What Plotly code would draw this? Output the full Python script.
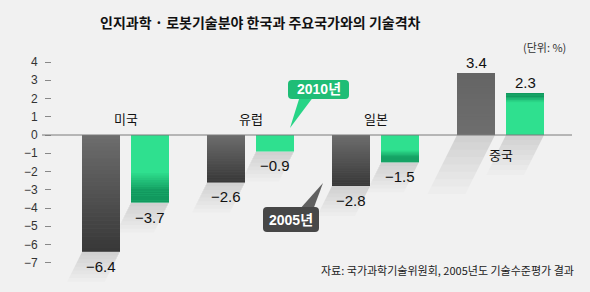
import plotly.graph_objects as go

# ---- data ----
categories = ["미국", "유럽", "일본", "중국"]
values_2005 = [-6.4, -2.6, -2.8, 3.4]
values_2010 = [-3.7, -0.9, -1.5, 2.3]
series_names = ["2005년", "2010년"]
y_ticks = [4, 3, 2, 1, 0, -1, -2, -3, -4, -5, -6, -7]
title_text = "인지과학 · 로봇기술분야 한국과 주요국가와의 기술격차"
unit_text = "(단위: %)"
source_text = "자료: 국가과학기술위원회, 2005년도 기술수준평가 결과"

W, H = 590, 292
KFONT = "Noto Sans CJK KR"
NFONT = "Liberation Sans, Noto Sans CJK KR"

GRAY = "#6e6e6e"
GREEN = "#2fe08f"

BAR_W = 0.304
OFF_05 = -0.348
OFF_10 = 0.044

# axis geometry: zero at y=135px, 18.25 px per unit; plot x from 52 to 572 px
TOP, BOT, LEFT, RIGHT = 40, 285, 52, 572
PPU = 18.25
ymax = (135 - TOP) / PPU
ymin = (135 - BOT) / PPU
XC0, XPU = 125.5, 125.0
xmin = (LEFT - XC0) / XPU
xmax = (RIGHT - XC0) / XPU

xs = list(range(len(categories)))

fig = go.Figure()
fig.add_trace(go.Bar(x=xs, y=values_2005, name=series_names[0], width=BAR_W, offset=OFF_05,
                     marker=dict(color=GRAY, line=dict(width=0)), showlegend=False, hoverinfo="skip"))
fig.add_trace(go.Bar(x=xs, y=values_2010, name=series_names[1], width=BAR_W, offset=OFF_10,
                     marker=dict(color=GREEN, line=dict(width=0)), showlegend=False, hoverinfo="skip"))


def fmt(v):
    s = f"{abs(v):.1f}"
    return ("\u2212" + s) if v < 0 else s


annotations = []
for vals, off in ((values_2005, OFF_05), (values_2010, OFF_10)):
    for i, v in enumerate(vals):
        annotations.append(dict(
            x=i + off + BAR_W / 2, y=v, xref="x", yref="y", text=fmt(v), showarrow=False,
            xanchor="center", yanchor="top" if v < 0 else "bottom", yshift=-4 if v < 0 else 0,
            font=dict(family=NFONT, size=15, color="#111")))

# category labels
for i, c in enumerate(categories):
    neg = values_2005[i] < 0
    annotations.append(dict(
        x=i, y=0, xref="x", yref="y", text=c, showarrow=False, xanchor="center",
        yanchor="bottom" if neg else "top", yshift=5 if neg else -8,
        font=dict(family=KFONT, size=13, color="#111")))


def px(x):
    return x / W


def py(y):
    return 1 - y / H


# title, unit, source
annotations.append(dict(x=px(260), y=py(22), xref="paper", yref="paper", text=f"<b>{title_text}</b>",
                        showarrow=False, xanchor="center", yanchor="middle",
                        font=dict(family=KFONT, size=14, color="#111")))
annotations.append(dict(x=px(568), y=py(47), xref="paper", yref="paper", text=unit_text,
                        showarrow=False, xanchor="right", yanchor="middle",
                        font=dict(family=KFONT, size=11, color="#333")))
annotations.append(dict(x=px(576), y=py(270), xref="paper", yref="paper", text=source_text,
                        showarrow=False, xanchor="right", yanchor="middle",
                        font=dict(family=KFONT, size=11, color="#222")))


def rrect(x0, y0, x1, y1, r=4):
    rx, ry = r / W, r / H
    X0, X1 = px(x0), px(x1)
    Y0, Y1 = py(y0), py(y1)
    return (f"M{X0+rx},{Y0} L{X1-rx},{Y0} Q{X1},{Y0} {X1},{Y0-ry} "
            f"L{X1},{Y1+ry} Q{X1},{Y1} {X1-rx},{Y1} L{X0+rx},{Y1} "
            f"Q{X0},{Y1} {X0},{Y1+ry} L{X0},{Y0-ry} Q{X0},{Y0} {X0+rx},{Y0} Z")


def tri(p1, p2, p3):
    return f"M{px(p1[0])},{py(p1[1])} L{px(p2[0])},{py(p2[1])} L{px(p3[0])},{py(p3[1])} Z"


shapes = []

# --- soft diagonal shadows below bars (derived from bar geometry) ---
SLOPE = 0.5  # px left per px down
for vals, off in ((values_2005, OFF_05), (values_2010, OFF_10)):
    for i, v in enumerate(vals):
        x0 = i + off
        x1 = x0 + BAR_W
        base = v if v < 0 else 0.0
        length_px = 30 if v < 0 else abs(v) * PPU * 0.95
        steps = 8
        for k in range(steps):
            L = length_px * (k + 1) / steps
            dy = L / PPU
            dx = SLOPE * L / XPU
            shapes.append(dict(
                type="path", xref="x", yref="y", layer="below",
                path=(f"M{x0},{base} L{x1},{base} L{x1 - dx},{base - dy} L{x0 - dx},{base - dy} Z"),
                fillcolor="rgba(0,0,0,0.017)", line=dict(width=0)))

# --- bar shading bands (gradient toward the bar tip) ---
NB = 30
for vals, off, kind in ((values_2005, OFF_05, "gray"), (values_2010, OFF_10, "green")):
    for i, v in enumerate(vals):
        x0 = i + off
        x1 = x0 + BAR_W
        if kind == "green" and abs(v) < 1:
            continue
        for k in range(NB):
            t0 = k / NB
            t1 = (k + 1) / NB
            tm = (t0 + t1) / 2
            if kind == "gray":
                a = 0.5 * tm if v < 0 else 0.08 * tm
                col = f"rgba(0,0,0,{a:.3f})"
            else:
                start = 0.55 if v < 0 else 0.78
                a = 0.0 if tm < start else 0.62 * min(1.0, (tm - start) / (1 - start) * 1.6)
                col = f"rgba(0,110,65,{a:.3f})"
            if a <= 0:
                continue
            shapes.append(dict(type="rect", xref="x", yref="y", layer="above",
                               x0=x0, x1=x1, y0=v * t0, y1=v * t1,
                               fillcolor=col, line=dict(width=0)))

# zero line extended slightly left
shapes.append(dict(type="line", xref="paper", yref="y", x0=px(42), x1=px(572), y0=0, y1=0,
                   line=dict(color="#7a7a7a", width=1), layer="above"))

# 2010 callout
shapes.append(dict(type="path", xref="paper", yref="paper", path=tri((300, 96), (314, 96), (290, 128)),
                   fillcolor="#27d486", line=dict(width=0)))
shapes.append(dict(type="path", xref="paper", yref="paper", path=rrect(288, 80, 349, 99),
                   fillcolor="#1fbd76", line=dict(width=0)))
# 2005 callout
shapes.append(dict(type="path", xref="paper", yref="paper", path=tri((299, 210), (313, 210), (323, 183)),
                   fillcolor="#606060", line=dict(width=0)))
shapes.append(dict(type="path", xref="paper", yref="paper", path=rrect(263, 207, 319, 232),
                   fillcolor="#474747", line=dict(width=0)))

annotations.append(dict(x=px(318.5), y=py(89.5), xref="paper", yref="paper", text=f"<b>{series_names[1]}</b>",
                        showarrow=False, xanchor="center", yanchor="middle",
                        font=dict(family=NFONT, size=14, color="white")))
annotations.append(dict(x=px(291), y=py(219.5), xref="paper", yref="paper", text=f"<b>{series_names[0]}</b>",
                        showarrow=False, xanchor="center", yanchor="middle",
                        font=dict(family=NFONT, size=14, color="white")))

fig.update_layout(
    width=W, height=H,
    margin=dict(l=0, r=0, t=0, b=0),
    paper_bgcolor="#f1f1f1", plot_bgcolor="#f1f1f1",
    barmode="overlay",
    showlegend=False,
    xaxis=dict(domain=[LEFT / W, RIGHT / W], range=[xmin, xmax], showticklabels=False,
               showgrid=False, zeroline=False, showline=False, ticks="", automargin=False, fixedrange=True),
    yaxis=dict(domain=[1 - BOT / H, 1 - TOP / H], range=[ymin, ymax], tickvals=y_ticks,
               ticks="outside", ticklen=6, tickcolor="#888", tickwidth=1,
               ticklabelstandoff=5,
               tickfont=dict(family=NFONT, size=12, color="#333"),
               showgrid=False, zeroline=False, showline=False, automargin=False, fixedrange=True),
    annotations=annotations,
    shapes=shapes,
)

fig.write_html("out.html")
